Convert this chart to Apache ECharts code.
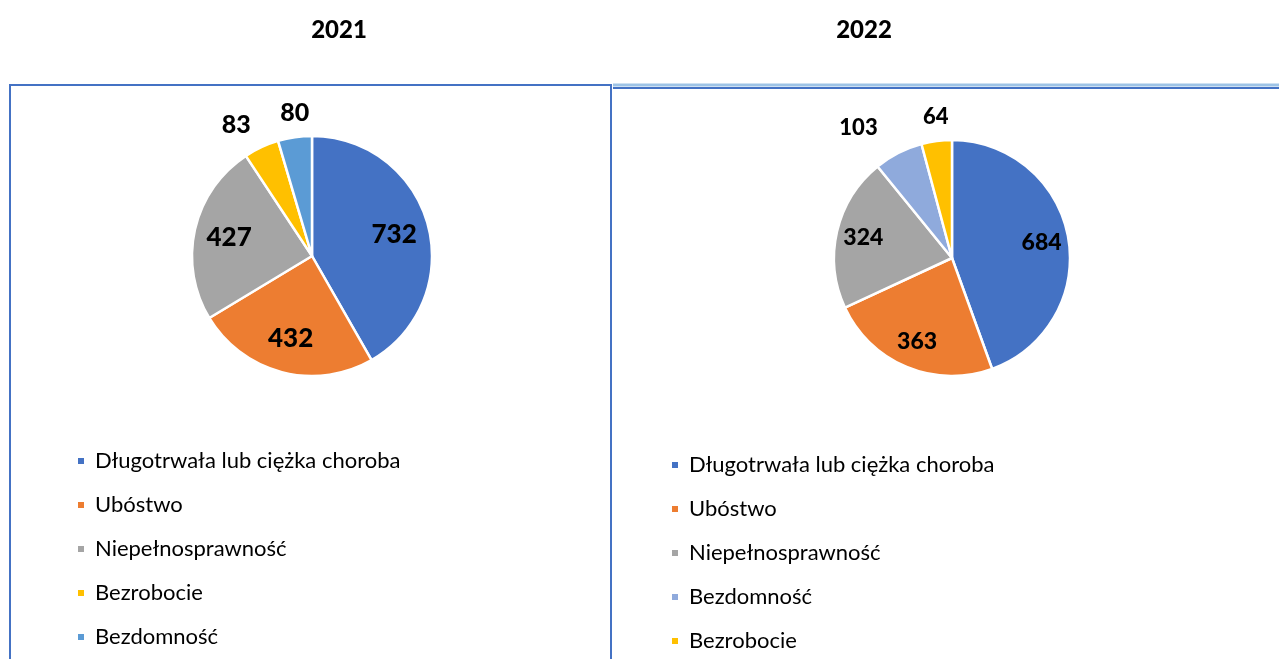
<!DOCTYPE html>
<html>
<head>
<meta charset="utf-8">
<script src="https://cdn.jsdelivr.net/npm/echarts@6/dist/echarts.min.js"></script>
<style>
  html, body { margin: 0; padding: 0; background: #fff; }
  #chart { width: 1279px; height: 659px; }
</style>
</head>
<body>
<div id="chart"></div>
<script>
// 2021
const names2021 = ['Długotrwała lub ciężka choroba', 'Ubóstwo', 'Niepełnosprawność', 'Bezrobocie', 'Bezdomność'];
const values2021 = [732, 432, 427, 83, 80];
const colors2021 = ['#4472C4', '#ED7D31', '#A5A5A5', '#FFC000', '#5B9BD5'];

// 2022
const names2022 = ['Długotrwała lub ciężka choroba', 'Ubóstwo', 'Niepełnosprawność', 'Bezdomność', 'Bezrobocie'];
const values2022 = [684, 363, 324, 103, 64];
const colors2022 = ['#4472C4', '#ED7D31', '#A5A5A5', '#8FAADC', '#FFC000'];

const years = ['2021', '2022'];

const FONT = 'Lato, "Noto Sans", sans-serif';

// label tweaks for the small outer slices: [labelLine length, distance]
const outerLabels2021 = { 3: [25, 0], 4: [25, -18] };
const outerLabels2022 = { 3: [28, 8], 4: [24, -15] };

const buildData = (names, values, colors) =>
    names.map((name, i) => ({ name, value: values[i], itemStyle: { color: colors[i] } }));

const buildLabelData = (names, values, outer, fontSize) =>
    names.map((name, i) => {
        const o = outer[i];
        const item = { name, value: values[i] };
        if (o) {
            item.label = { position: 'outside', distanceToLabelLine: o[1], fontSize };
            item.labelLine = { show: false, length: o[0], length2: 0 };
        }
        return item;
    });

const pieSeries = (data, center, radius) => ({
    type: 'pie',
    center,
    radius,
    startAngle: 90,
    silent: true,
    avoidLabelOverlap: false,
    label: { show: false },
    labelLine: { show: false },
    itemStyle: { borderColor: '#fff', borderWidth: 2.5 },
    data
});

const labelSeries = (data, center, radius, fontSize) => ({
    type: 'pie',
    center,
    radius,
    startAngle: 90,
    silent: true,
    avoidLabelOverlap: false,
    itemStyle: { color: 'rgba(0,0,0,0)', borderWidth: 0 },
    label: {
        show: true,
        position: 'inside',
        formatter: '{c}',
        color: '#000',
        fontFamily: FONT,
        fontWeight: 900,
        fontSize
    },
    labelLine: { show: false },
    data
});

const legendItems = (names, colors) => names.map((name, i) => ({ name, itemStyle: { color: colors[i] } }));

const legendConfig = (names, colors, left, top) => ({
    orient: 'vertical',
    left,
    top,
    padding: 0,
    icon: 'rect',
    itemWidth: 8,
    itemHeight: 8,
    itemGap: 18,
    selectedMode: false,
    textStyle: {
        fontFamily: FONT,
        fontSize: 22,
        color: '#000',
        lineHeight: 26,
        padding: [0, 0, 0, 5]
    },
    data: legendItems(names, colors)
});

const titleStyle = { fontFamily: FONT, fontWeight: 900, fontSize: 24, color: '#000' };

const chart = echarts.init(document.getElementById('chart'));

chart.setOption({
    backgroundColor: '#fff',
    animation: false,
    title: [
        { text: years[0], left: 334, top: 13, textAlign: 'center', textStyle: titleStyle },
        { text: years[1], left: 859, top: 13, textAlign: 'center', textStyle: titleStyle }
    ],
    graphic: [
        { type: 'rect', shape: { x: 10, y: 85, width: 601, height: 620 }, style: { fill: 'none', stroke: '#4472C4', lineWidth: 2 } },
        { type: 'line', shape: { x1: 613, y1: 85, x2: 1279, y2: 85 }, style: { stroke: '#9DC3E6', lineWidth: 3 } },
        { type: 'line', shape: { x1: 613, y1: 88, x2: 1279, y2: 88 }, style: { stroke: '#4472C4', lineWidth: 2 } }
    ],
    legend: [
        legendConfig(names2021, colors2021, 76, 448),
        legendConfig(names2022, colors2022, 670, 452)
    ],
    series: [
        pieSeries(buildData(names2021, values2021, colors2021), [312, 256], [0, 120]),
        labelSeries(buildLabelData(names2021, values2021, outerLabels2021, 25), [312, 256], [44, 120], 26),
        pieSeries(buildData(names2022, values2022, colors2022), [952, 258], [0, 118]),
        labelSeries(buildLabelData(names2022, values2022, outerLabels2022, 22), [952, 258], [58, 118], 23)
    ]
});
</script>
</body>
</html>
